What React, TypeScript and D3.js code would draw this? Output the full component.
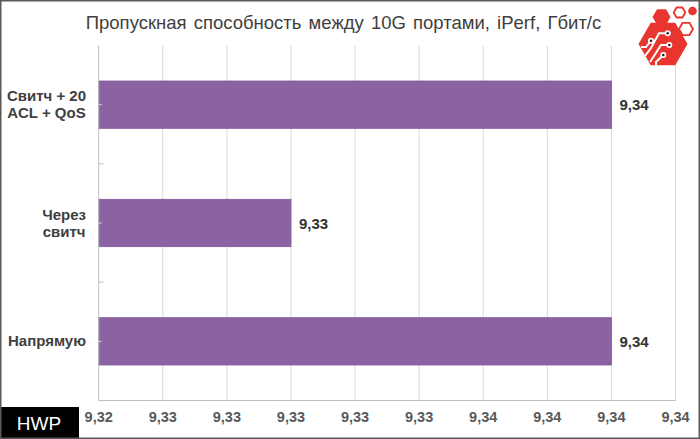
import * as d3 from 'd3'
import React from 'react'

const categories = ['Свитч + 20\nACL + QoS', 'Через\nсвитч', 'Напрямую']
const values = [9.34, 9.33, 9.34]
const xTicks = [9.324, 9.326, 9.328, 9.33, 9.332, 9.334, 9.336, 9.338, 9.34, 9.342]
const title = 'Пропускная способность между 10G портами, iPerf, Гбит/с'

const W = 700
const H = 439
const plot = { left: 98.7, right: 675.5, top: 45.5, bottom: 400.5 }
const font = 'Liberation Sans, Arial, sans-serif'

const fmt = (v: number) => v.toFixed(2).replace('.', ',')

let ctx: CanvasRenderingContext2D | null = null
const measure = (s: string, f: string) => {
  if (!ctx) ctx = document.createElement('canvas').getContext('2d')
  if (!ctx) return s.length * 8
  ctx.font = f
  return ctx.measureText(s).width
}

const hexPoints = (cx: number, cy: number, r: number) =>
  d3.range(6).map((i) => {
    const a = (Math.PI / 3) * i
    return [cx + r * Math.cos(a), cy + r * Math.sin(a)] as [number, number]
  })

const Logo = () => {
  const red = '#e8352f'
  const line = d3.line()
  const big = hexPoints(663, 44, 24.5)
  const top = hexPoints(661.5, 17, 9)
  const dots: [number, number][] = [
    [651, 40.7],
    [667.7, 33.3],
    [669.3, 45],
    [663.3, 55],
  ]
  const wires: [number, number][][] = [
    [[651, 40.7], [646, 47], [641, 47]],
    [[667.7, 33.3], [659, 33.3], [651, 48], [645, 56]],
    [[669.3, 45], [661, 45], [654, 56], [650, 62]],
    [[663.3, 55], [656, 62], [656, 66]],
  ]
  return (
    <g>
      <path d={line(top) + 'Z'} fill={red} />
      <path d={line(big) + 'Z'} fill={red} />
      {wires.map((w, i) => (
        <path key={i} d={line(w) ?? ''} fill="none" stroke="#fff" strokeWidth={2} />
      ))}
      {dots.map((d, i) => (
        <g key={i}>
          <circle cx={d[0]} cy={d[1]} r={3} fill="#fff" />
          <circle cx={d[0]} cy={d[1]} r={1.3} fill="#222" />
        </g>
      ))}
      <path d={line(hexPoints(679.5, 12.5, 5.8)) + 'Z'} fill="none" stroke={red} strokeWidth={1.8} />
      <path d={line(hexPoints(686, 29, 7)) + 'Z'} fill="none" stroke={red} strokeWidth={1.8} />
      <circle cx={692.5} cy={11} r={4.3} fill={red} />
    </g>
  )
}

const App = () => {
  const x = d3.scaleLinear().domain([xTicks[0], xTicks[xTicks.length - 1]]).range([plot.left, plot.right])
  const y = d3
    .scaleBand<string>()
    .domain(categories)
    .range([plot.top, plot.bottom])
    .paddingInner(0.6)
    .paddingOuter(0.3)
  const step = y.step()
  const catFont = `bold 15px ${font}`

  return (
    <svg
      width={W}
      height={H}
      style={{ position: 'absolute', left: 0, top: 0, background: '#fff' }}
      fontFamily={font}
    >
      <rect x={0} y={0} width={W} height={H} fill="#fff" />

      {/* grid */}
      {xTicks.slice(1).map((t) => (
        <line key={t} x1={x(t)} x2={x(t)} y1={plot.top} y2={plot.bottom} stroke="#d9d9d9" />
      ))}

      {/* bars */}
      {categories.map((c, i) => (
        <rect
          key={c}
          x={x(xTicks[0])}
          y={y(c)}
          width={x(values[i]) - x(xTicks[0])}
          height={y.bandwidth()}
          fill="#8b63a3"
          stroke="#80579a"
          strokeWidth={0.8}
        />
      ))}

      {/* axes */}
      <line x1={plot.left} x2={plot.right} y1={plot.bottom} y2={plot.bottom} stroke="#bfbfbf" />
      <line x1={plot.left} x2={plot.left} y1={plot.top} y2={plot.bottom} stroke="#bfbfbf" />
      {categories.slice(1).map((c) => (
        <line
          key={c}
          x1={plot.left}
          x2={plot.left + 5}
          y1={(y(c) ?? 0) - (step - y.bandwidth()) / 2}
          y2={(y(c) ?? 0) - (step - y.bandwidth()) / 2}
          stroke="#bfbfbf"
        />
      ))}
      {categories.map((c) => (
        <line
          key={c}
          x1={plot.left}
          x2={plot.left + 3}
          y1={(y(c) ?? 0) + y.bandwidth() / 2}
          y2={(y(c) ?? 0) + y.bandwidth() / 2}
          stroke="#d9d9d9"
        />
      ))}

      {/* x tick labels */}
      {xTicks.map((t) => (
        <text
          key={t}
          x={x(t)}
          y={422}
          textAnchor="middle"
          fontSize={14.5}
          fontWeight="bold"
          fill="#595959"
        >
          {fmt(t)}
        </text>
      ))}

      {/* category labels */}
      {categories.map((c) => {
        const lines = c.split('\n')
        const maxW = Math.max(...lines.map((l) => measure(l, catFont)))
        const cx = 86 - maxW / 2
        const cy = (y(c) ?? 0) + y.bandwidth() / 2
        const lh = 17
        return (
          <text key={c} textAnchor="middle" fontSize={15} fontWeight="bold" fill="#404040">
            {lines.map((l, j) => (
              <tspan key={j} x={cx} y={cy + 5 + (j - (lines.length - 1) / 2) * lh}>
                {l}
              </tspan>
            ))}
          </text>
        )
      })}

      {/* value labels */}
      {categories.map((c, i) => (
        <text
          key={c}
          x={x(values[i]) + 8}
          y={(y(c) ?? 0) + y.bandwidth() / 2 + 5.5}
          fontSize={15}
          fontWeight="bold"
          fill="#333"
        >
          {fmt(values[i])}
        </text>
      ))}

      {/* title */}
      <text x={343.5} y={29} textAnchor="middle" fontSize={18.5} wordSpacing={2} fill="#404040">
        {title}
      </text>

      <Logo />

      {/* HWP badge */}
      <rect x={0} y={407} width={79} height={32} fill="#000" />
      <text x={39} y={430} textAnchor="middle" fontSize={19} fill="#fff">
        HWP
      </text>

      {/* frame */}
      <rect x={0.75} y={0.75} width={W - 1.5} height={H - 1.5} fill="none" stroke="#595959" strokeWidth={1.5} />
    </svg>
  )
}

export default App
